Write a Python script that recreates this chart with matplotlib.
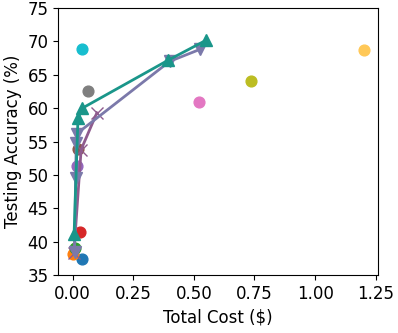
import matplotlib.pyplot as plt

plt.rcParams['font.size'] = 12

# single-model points (cost $, accuracy %)
pt_cost = [0.037, 0.0, 0.01, 0.03, 0.018, 0.02, 0.52, 0.062, 0.737, 0.038, 1.2]
pt_acc = [37.4, 38.2, 39.0, 41.4, 51.4, 53.9, 60.9, 62.5, 64.0, 68.8, 68.7]
pt_colors = ['tab:blue', 'tab:orange', 'tab:green', 'tab:red', 'tab:purple',
             'tab:brown', 'tab:pink', 'tab:gray', 'tab:olive', 'tab:cyan', '#ffc857']

# cascade curves
x_cost = [0.005, 0.035, 0.1]
x_acc = [38.3, 53.8, 59.3]

down_cost = [0.008, 0.012, 0.015, 0.018, 0.4, 0.525]
down_acc = [38.4, 49.5, 54.8, 56.2, 67.0, 68.8]

up_cost = [0.006, 0.022, 0.04, 0.395, 0.552]
up_acc = [41.2, 58.5, 60.0, 67.2, 70.2]

xticks = [0.0, 0.25, 0.5, 0.75, 1.0, 1.25]

fig = plt.figure(figsize=(3.98, 3.33), dpi=100)
ax = fig.add_axes([0.146, 0.174, 0.804, 0.802])

for c, a, col in zip(pt_cost, pt_acc, pt_colors):
    ax.scatter(c, a, color=col, s=60, zorder=2)

ax.plot(x_cost, x_acc, color='#8f5b8e', marker='x', markersize=8, lw=2, zorder=3)
ax.plot(down_cost, down_acc, color='#7b79aa', marker='v', markersize=8, lw=2, zorder=3)
ax.plot(up_cost, up_acc, color='#1a968a', marker='^', markersize=8, lw=2, zorder=4)

ax.set_ylim(35, 75)
ax.set_xticks(xticks)
ax.set_xlabel('Total Cost ($)')
ax.set_ylabel('Testing Accuracy (%)')

fig.savefig('out.png', dpi=100)
